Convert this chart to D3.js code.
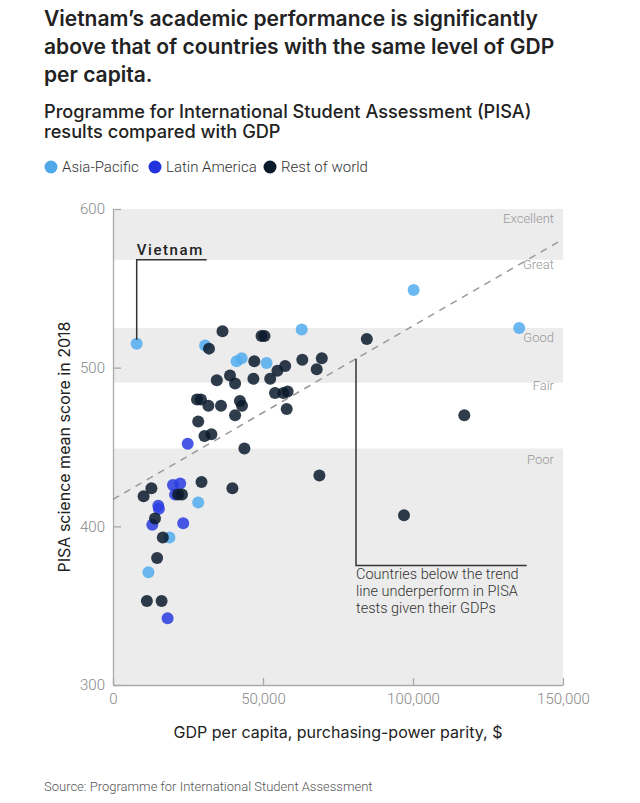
<html>
<script src="https://d3js.org/d3.v7.min.js"></script>
<body style="margin:0;background:#fff">
<svg id="chart" width="640" height="803"></svg>
<script>
// Data: [GDP per capita PPP, PISA science score]
const asiaPacific = [
  [7900, 515], [30700, 514], [41200, 504], [42900, 506], [51200, 503],
  [62900, 524], [100200, 549], [135400, 525], [28400, 415], [18800, 393], [11800, 371]
];
const latinAmerica = [
  [24900, 452], [20000, 426], [22400, 427], [20700, 420], [15100, 413],
  [15300, 411], [13100, 401], [23400, 402], [18200, 342]
];
const restOfWorld = [
  [32000, 512], [36500, 523], [34600, 492], [39000, 495], [40700, 490],
  [28000, 480], [29300, 480], [31800, 476], [36000, 476], [28400, 466],
  [30500, 457], [32800, 458], [29500, 428], [12800, 424], [10200, 419],
  [21700, 420], [23000, 420], [39800, 424], [43800, 449], [42300, 479],
  [43000, 476], [40700, 470], [47100, 504], [49500, 520], [50500, 520],
  [46800, 493], [52400, 493], [54800, 498], [57400, 501], [54000, 484],
  [56800, 484], [58200, 485], [57900, 474], [63100, 505], [69600, 506],
  [67900, 499], [84600, 518], [68800, 432], [117100, 470], [97000, 407],
  [14000, 405], [16600, 393], [14700, 380], [11300, 353], [16200, 353]
];
const series = [
  { name: "Asia-Pacific", color: "#52adf0", legend: "#4ea8ea", points: asiaPacific },
  { name: "Latin America", color: "#2a3ce0", legend: "#2233dd", points: latinAmerica },
  { name: "Rest of world", color: "#0b1a2c", legend: "#0b1a2b", points: restOfWorld }
];
const bands = [
  { lo: 568, hi: 600, label: "Excellent", at: 594, gray: true },
  { lo: 525, hi: 568, label: "Great", at: 565, gray: false },
  { lo: 490.5, hi: 525, label: "Good", at: 519, gray: true },
  { lo: 449, hi: 490.5, label: "Fair", at: 489, gray: false },
  { lo: 300, hi: 449, label: "Poor", at: 442, gray: true }
];
const trend = [[0, 417], [150000, 581]];
const xTicks = [0, 50000, 100000, 150000];
const yTicks = [300, 400, 500, 600];
const vietnam = [7900, 515];
const underCallout = [[81000, 505.6], [81000, 375.3], [137900, 375.3]];
const underText = ["Countries below the trend", "line underperform in PISA", "tests given their GDPs"];

const svg = d3.select("#chart");
const x = d3.scaleLinear().domain([0, 150000]).range([113, 563]);
const y = d3.scaleLinear().domain([300, 600]).range([685, 209]);
const font = "Roboto, 'Liberation Sans', sans-serif";
const head = "Inter, Roboto, sans-serif";

// Titles
svg.append("g").selectAll("text")
  .data(["Vietnam’s academic performance is significantly", "above that of countries with the same level of GDP", "per capita."])
  .join("text")
  .attr("x", 44).attr("y", (d, i) => 26 + i * 28)
  .attr("font-family", head).attr("font-size", 21).attr("font-weight", 600)
  .attr("fill", "#222").text(d => d);

svg.append("g").selectAll("text")
  .data(["Programme for International Student Assessment (PISA)", "results compared with GDP"])
  .join("text")
  .attr("x", 44).attr("y", (d, i) => 118 + i * 20)
  .attr("font-family", head).attr("font-size", 18.2).attr("font-weight", 500)
  .attr("fill", "#222").text(d => d);

// Legend
const legendX = [51, 155, 270];
const lg = svg.append("g").selectAll("g").data(series).join("g")
  .attr("transform", (d, i) => "translate(" + legendX[i] + ",167)");
lg.append("circle").attr("r", 6.5).attr("fill", d => d.legend);
lg.append("text").attr("x", 11).attr("y", 5)
  .attr("font-family", font).attr("font-size", 15).attr("font-weight", 300)
  .attr("fill", "#333").text(d => d.name);

// Bands
svg.append("g").selectAll("rect")
  .data(bands.filter(d => d.gray)).join("rect")
  .attr("x", x(0)).attr("width", x(150000) - x(0))
  .attr("y", d => y(d.hi)).attr("height", d => y(d.lo) - y(d.hi))
  .attr("fill", "#ececec");

svg.append("g").selectAll("text")
  .data(bands).join("text")
  .attr("x", x(150000) - 9).attr("y", d => y(d.at))
  .attr("dy", "0.35em").attr("text-anchor", "end")
  .attr("font-family", font).attr("font-size", 13).attr("font-weight", 300)
  .attr("fill", "#999").text(d => d.label);

// Axes
const yAxis = svg.append("g").attr("transform", "translate(" + x(0) + ",0)")
  .call(d3.axisLeft(y).tickValues(yTicks).tickSizeInner(-8).tickSizeOuter(0).tickPadding(8));
const xAxis = svg.append("g").attr("transform", "translate(0," + y(300) + ")")
  .call(d3.axisBottom(x).tickValues(xTicks).tickFormat(d3.format(",")).tickSizeInner(-7).tickSizeOuter(0).tickPadding(8));
[yAxis, xAxis].forEach(a => {
  a.selectAll("path, line").attr("stroke", "#aaa").attr("stroke-width", 1.3);
  a.selectAll("text").attr("font-family", font).attr("font-size", 15)
    .attr("font-weight", 300).attr("fill", "#888");
});

svg.append("text")
  .attr("transform", "translate(70," + ((y(300) + y(600)) / 2) + ") rotate(-90)")
  .attr("text-anchor", "middle")
  .attr("font-family", head).attr("font-size", 16).attr("fill", "#222")
  .text("PISA science mean score in 2018");

svg.append("text")
  .attr("x", 338).attr("y", 738).attr("text-anchor", "middle")
  .attr("font-family", head).attr("font-size", 16).attr("fill", "#222")
  .text("GDP per capita, purchasing-power parity, $");

// Trend line
svg.append("path")
  .datum(trend)
  .attr("d", d3.line().x(d => x(d[0])).y(d => y(d[1])))
  .attr("fill", "none").attr("stroke", "#999").attr("stroke-width", 1.5)
  .attr("stroke-dasharray", "7,6");

// Points
svg.append("g").selectAll("g").data(series).join("g")
  .attr("fill", d => d.color).attr("fill-opacity", 0.85)
  .selectAll("circle").data(d => d.points).join("circle")
  .attr("cx", d => x(d[0])).attr("cy", d => y(d[1])).attr("r", 6);

// Vietnam callout
svg.append("path")
  .attr("d", "M" + (x(vietnam[0]) + 70) + "," + (y(vietnam[1]) - 84) + "H" + x(vietnam[0]) + "V" + (y(vietnam[1]) - 4))
  .attr("fill", "none").attr("stroke", "#333").attr("stroke-width", 1.5);
svg.append("text")
  .attr("x", x(vietnam[0])).attr("y", y(vietnam[1]) - 89)
  .attr("font-family", font).attr("font-size", 15).attr("font-weight", 500)
  .attr("letter-spacing", 1.6).attr("fill", "#222").text("Vietnam");

// Under-performers callout
svg.append("path")
  .datum(underCallout)
  .attr("d", d3.line().x(d => x(d[0])).y(d => y(d[1])))
  .attr("fill", "none").attr("stroke", "#333").attr("stroke-width", 1.5);
svg.append("g").selectAll("text").data(underText).join("text")
  .attr("x", x(underCallout[0][0])).attr("y", (d, i) => y(underCallout[1][1]) + 13 + i * 17)
  .attr("font-family", font).attr("font-size", 14.5).attr("font-weight", 300)
  .attr("fill", "#333").text(d => d);

// Source
svg.append("text")
  .attr("x", 44).attr("y", 791)
  .attr("font-family", font).attr("font-size", 13).attr("font-weight", 300)
  .attr("fill", "#555").text("Source: Programme for International Student Assessment");
</script>
</body>
</html>
